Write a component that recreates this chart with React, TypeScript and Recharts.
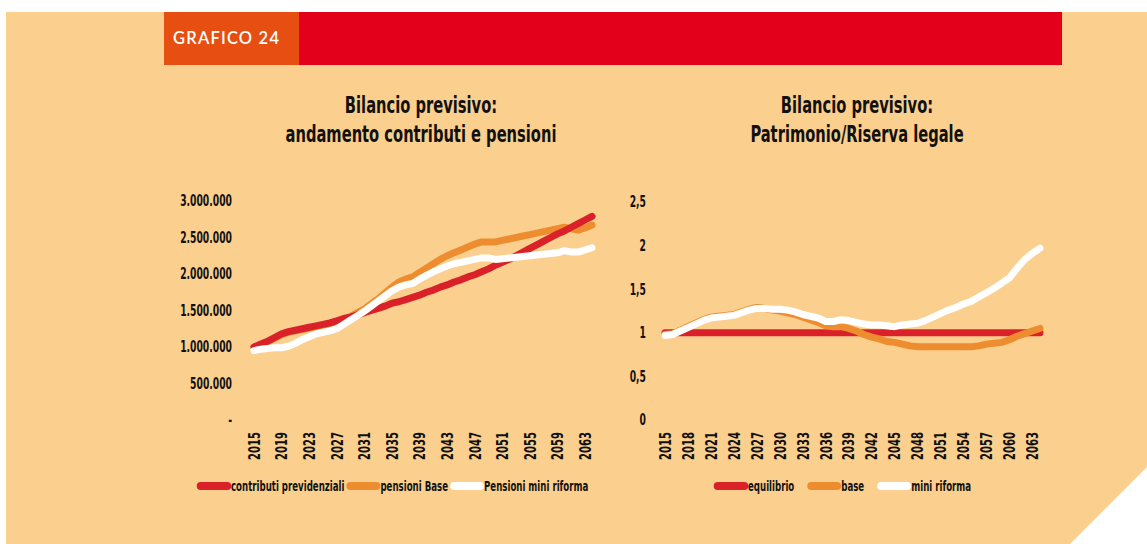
import React from 'react';
import { LineChart, Line, XAxis, YAxis, Legend } from 'recharts';

// years on the horizontal axis (both charts)
const years = [
  2015, 2016, 2017, 2018, 2019, 2020, 2021, 2022, 2023, 2024,
  2025, 2026, 2027, 2028, 2029, 2030, 2031, 2032, 2033, 2034,
  2035, 2036, 2037, 2038, 2039, 2040, 2041, 2042, 2043, 2044,
  2045, 2046, 2047, 2048, 2049, 2050, 2051, 2052, 2053, 2054,
  2055, 2056, 2057, 2058, 2059, 2060, 2061, 2062, 2063, 2064,
];

// left chart: contributi e pensioni
const contributi = [
  1000000, 1040000, 1080000, 1130000, 1180000, 1210000, 1230000, 1250000, 1270000, 1290000,
  1310000, 1330000, 1360000, 1390000, 1410000, 1440000, 1470000, 1500000, 1530000, 1560000,
  1600000, 1620000, 1650000, 1680000, 1710000, 1750000, 1780000, 1820000, 1850000, 1890000,
  1920000, 1960000, 1990000, 2030000, 2070000, 2120000, 2160000, 2200000, 2250000, 2300000,
  2350000, 2400000, 2450000, 2500000, 2550000, 2590000, 2640000, 2690000, 2740000, 2790000,
];
const pensioniBase = [
  990000, 1030000, 1070000, 1120000, 1170000, 1200000, 1220000, 1240000, 1260000, 1280000,
  1300000, 1320000, 1340000, 1380000, 1420000, 1470000, 1520000, 1590000, 1660000, 1740000,
  1820000, 1890000, 1930000, 1960000, 2020000, 2080000, 2140000, 2200000, 2250000, 2290000,
  2330000, 2370000, 2410000, 2440000, 2440000, 2440000, 2460000, 2480000, 2500000, 2520000,
  2540000, 2560000, 2580000, 2600000, 2620000, 2640000, 2620000, 2600000, 2630000, 2670000,
];
const pensioniMini = [
  950000, 970000, 980000, 990000, 990000, 1010000, 1050000, 1100000, 1140000, 1180000,
  1200000, 1220000, 1250000, 1310000, 1370000, 1430000, 1490000, 1560000, 1630000, 1700000,
  1770000, 1820000, 1850000, 1870000, 1930000, 1980000, 2030000, 2070000, 2110000, 2140000,
  2160000, 2180000, 2200000, 2220000, 2220000, 2200000, 2210000, 2220000, 2230000, 2240000,
  2250000, 2260000, 2270000, 2280000, 2290000, 2320000, 2300000, 2300000, 2330000, 2360000,
];
const leftTicks = [0, 500000, 1000000, 1500000, 2000000, 2500000, 3000000];

// right chart: patrimonio / riserva legale
const equilibrio = [
  1, 1, 1, 1, 1, 1, 1, 1, 1, 1,
  1, 1, 1, 1, 1, 1, 1, 1, 1, 1,
  1, 1, 1, 1, 1, 1, 1, 1, 1, 1,
  1, 1, 1, 1, 1, 1, 1, 1, 1, 1,
  1, 1, 1, 1, 1, 1, 1, 1, 1, 1,
];
const base = [
  0.98, 0.99, 1.03, 1.07, 1.11, 1.15, 1.18, 1.19, 1.2, 1.21,
  1.24, 1.27, 1.29, 1.28, 1.26, 1.25, 1.23, 1.21, 1.18, 1.15,
  1.12, 1.08, 1.07, 1.07, 1.05, 1.02, 0.98, 0.95, 0.93, 0.9,
  0.89, 0.87, 0.85, 0.84, 0.84, 0.84, 0.84, 0.84, 0.84, 0.84,
  0.84, 0.85, 0.87, 0.88, 0.89, 0.92, 0.96, 0.99, 1.02, 1.05,
];
const miniRiforma = [
  0.97, 0.98, 1.02, 1.06, 1.1, 1.14, 1.17, 1.18, 1.19, 1.2,
  1.23, 1.26, 1.28, 1.28, 1.27, 1.27, 1.26, 1.24, 1.21, 1.19,
  1.17, 1.13, 1.13, 1.15, 1.14, 1.12, 1.1, 1.09, 1.09, 1.08,
  1.07, 1.09, 1.1, 1.11, 1.14, 1.18, 1.22, 1.26, 1.29, 1.33,
  1.36, 1.41, 1.46, 1.51, 1.57, 1.63, 1.74, 1.84, 1.91, 1.97,
];
const rightTicks = [0, 0.5, 1, 1.5, 2, 2.5];

const RED = '#da2129';
const ORANGE = '#ee8d30';
const WHITE = '#ffffff';
const PEACH = '#fbcf8e';
const INK = '#111';
// no real condensed face installed, so DejaVu Condensed gets squeezed a bit more
const FONT = "'DejaVu Sans Condensed', 'DejaVu Sans', sans-serif";
const LEGEND_SX = 0.72;

const leftData = years.map((y, i) => ({
  year: y,
  contributi: contributi[i],
  pensioniBase: pensioniBase[i],
  pensioniMini: pensioniMini[i],
}));
const rightData = years.map((y, i) => ({
  year: y,
  equilibrio: equilibrio[i],
  base: base[i],
  miniRiforma: miniRiforma[i],
}));

const leftLegend = [
  { label: 'contributi previdenziali', color: RED },
  { label: 'pensioni Base', color: ORANGE },
  { label: 'Pensioni mini riforma', color: WHITE },
];
const rightLegend = [
  { label: 'equilibrio', color: RED },
  { label: 'base', color: ORANGE },
  { label: 'mini riforma', color: WHITE },
];

const formatMillions = (v: number) =>
  v === 0 ? '-' : String(v).replace(/\B(?=(\d{3})+(?!\d))/g, '.');
const formatComma = (v: number) => String(v).replace('.', ',');

const YearTick = ({ x, y, payload }: any) => (
  <g transform={`translate(${x},${y}) rotate(-90) scale(0.7,1)`}>
    <text
      x={0}
      y={0}
      textAnchor="end"
      dominantBaseline="central"
      fill={INK}
      fontSize={16}
      fontWeight={700}
      fontFamily={FONT}
    >
      {payload.value}
    </text>
  </g>
);

const ValueTick = ({ x, y, payload, fmt }: any) => (
  <g transform={`translate(${x},${y}) scale(0.64,1)`}>
    <text
      x={0}
      y={0}
      textAnchor="end"
      dominantBaseline="central"
      fill={INK}
      fontSize={16}
      fontWeight={700}
      fontFamily={FONT}
    >
      {fmt(payload.value)}
    </text>
  </g>
);

const makeLegend = (items: { label: string; color: string }[], padLeft: number, gap: number) => () => (
  <div
    style={{
      display: 'flex',
      alignItems: 'center',
      height: 28,
      whiteSpace: 'nowrap',
      width: 450 / LEGEND_SX,
      paddingLeft: padLeft / LEGEND_SX,
      transform: `scaleX(${LEGEND_SX})`,
      transformOrigin: 'left center',
    }}
  >
    {items.map((it) => (
      <div key={it.label} style={{ display: 'flex', alignItems: 'center', marginRight: gap / LEGEND_SX }}>
        <span
          style={{
            width: 34 / LEGEND_SX,
            height: 8,
            borderRadius: `${4 / LEGEND_SX}px / 4px`,
            background: it.color,
            display: 'inline-block',
          }}
        />
        <span style={{ fontFamily: FONT, fontWeight: 700, fontSize: 13.3, color: INK }}>{it.label}</span>
      </div>
    ))}
  </div>
);

const titleStyle: React.CSSProperties = {
  position: 'absolute',
  width: 400,
  textAlign: 'center',
  fontFamily: FONT,
  fontWeight: 700,
  fontSize: 23,
  lineHeight: '29px',
  color: INK,
  whiteSpace: 'nowrap',
  transform: 'scaleX(0.71)',
  transformOrigin: 'center',
};

export default function App() {
  return (
    <div style={{ position: 'absolute', left: 0, top: 0, width: 1147, height: 544, background: '#fff', overflow: 'hidden' }}>
      <div
        style={{
          position: 'absolute',
          left: 0,
          top: 0,
          width: 1147,
          height: 544,
          background: PEACH,
          clipPath: 'polygon(6px 12px, 1147px 12px, 1147px 467px, 1070px 544px, 6px 544px)',
        }}
      />
      <div style={{ position: 'absolute', left: 164, top: 12, width: 135, height: 53, background: '#e64e12' }} />
      <div style={{ position: 'absolute', left: 299, top: 12, width: 763, height: 53, background: '#e2001a' }} />
      <div
        style={{
          position: 'absolute',
          left: 173,
          top: 12,
          height: 53,
          lineHeight: '53px',
          color: '#fff',
          fontFamily: "'Lato', 'Open Sans', sans-serif",
          fontSize: 16.5,
          fontWeight: 600,
          letterSpacing: 1.2,
        }}
      >
        GRAFICO 24
      </div>

      <div style={{ ...titleStyle, left: 221, top: 91 }}>
        Bilancio previsivo:
        <br />
        andamento contributi e pensioni
      </div>
      <div style={{ ...titleStyle, left: 657, top: 91 }}>
        Bilancio previsivo:
        <br />
        Patrimonio/Riserva legale
      </div>

      <div style={{ position: 'absolute', left: 160, top: 180 }}>
        <LineChart width={450} height={325} data={leftData} margin={{ top: 21, right: 18, left: 0, bottom: 5 }}>
          <XAxis
            dataKey="year"
            interval={3}
            tick={<YearTick />}
            tickLine={false}
            axisLine={false}
            tickSize={0}
            tickMargin={12}
            height={52}
          />
          <YAxis
            domain={[0, 3000000]}
            ticks={leftTicks}
            tick={<ValueTick fmt={formatMillions} />}
            tickLine={false}
            axisLine={false}
            tickSize={0}
            tickMargin={22}
            width={94}
          />
          <Legend verticalAlign="bottom" align="left" content={makeLegend(leftLegend, 37, 2)} />
          <Line type="linear" dataKey="pensioniBase" stroke={ORANGE} strokeWidth={7} dot={false} strokeLinecap="round" strokeLinejoin="round" isAnimationActive={false} />
          <Line type="linear" dataKey="contributi" stroke={RED} strokeWidth={7} dot={false} strokeLinecap="round" strokeLinejoin="round" isAnimationActive={false} />
          <Line type="linear" dataKey="pensioniMini" stroke={WHITE} strokeWidth={7} dot={false} strokeLinecap="round" strokeLinejoin="round" isAnimationActive={false} />
        </LineChart>
      </div>

      <div style={{ position: 'absolute', left: 610, top: 180 }}>
        <LineChart width={450} height={325} data={rightData} margin={{ top: 22, right: 20, left: 0, bottom: 5 }}>
          <XAxis
            dataKey="year"
            interval={2}
            tick={<YearTick />}
            tickLine={false}
            axisLine={false}
            tickSize={0}
            tickMargin={12}
            height={52}
          />
          <YAxis
            domain={[0, 2.5]}
            ticks={rightTicks}
            tick={<ValueTick fmt={formatComma} />}
            tickLine={false}
            axisLine={false}
            tickSize={0}
            tickMargin={19}
            width={55}
          />
          <Legend verticalAlign="bottom" align="left" content={makeLegend(rightLegend, 104, 13)} />
          <Line type="linear" dataKey="equilibrio" stroke={RED} strokeWidth={7} dot={false} strokeLinecap="round" strokeLinejoin="round" isAnimationActive={false} />
          <Line type="linear" dataKey="base" stroke={ORANGE} strokeWidth={7} dot={false} strokeLinecap="round" strokeLinejoin="round" isAnimationActive={false} />
          <Line type="linear" dataKey="miniRiforma" stroke={WHITE} strokeWidth={7} dot={false} strokeLinecap="round" strokeLinejoin="round" isAnimationActive={false} />
        </LineChart>
      </div>
    </div>
  );
}
